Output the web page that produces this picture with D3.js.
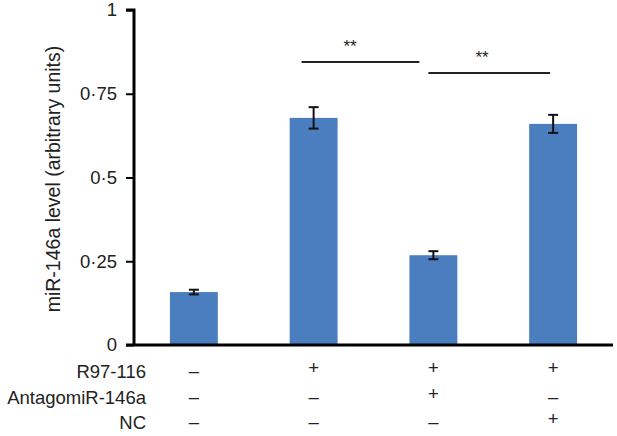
<!DOCTYPE html>
<html>
<head>
<meta charset="utf-8">
<script src="https://cdn.jsdelivr.net/npm/d3@7"></script>
<style>
  body { margin: 0; background: #fff; }
  text { font-family: "Liberation Sans", Arial, sans-serif; fill: #222; }
</style>
</head>
<body>
<div id="chart"></div>
<script>
// data
const groups = ["g1", "g2", "g3", "g4"];
const values = [0.158, 0.678, 0.268, 0.66];
const errors = [0.007, 0.032, 0.012, 0.027];
const yTicks = [0, 0.25, 0.5, 0.75, 1];
const rowNames = ["R97-116", "AntagomiR-146a", "NC"];
const rowR97 = ["–", "+", "+", "+"];
const rowAntago = ["–", "–", "+", "–"];
const rowNC = ["–", "–", "–", "+"];
// significance brackets: [from group, to group, level]
const sigPairs = [["g2", "g3", 0.845], ["g3", "g4", 0.812]];

const W = 617, H = 436;
const margin = {top: 10, left: 134, right: 4, bottom: 91};
const fs = 18.5;

const svg = d3.select("#chart").append("svg")
    .attr("width", W).attr("height", H);

const x = d3.scaleBand()
    .domain(groups)
    .range([margin.left, W - margin.right])
    .paddingInner(0.6)
    .paddingOuter(0.3);

const y = d3.scaleLinear()
    .domain([0, 1])
    .range([H - margin.bottom, margin.top]);

// bars
svg.selectAll("rect.bar").data(groups).enter().append("rect")
    .attr("class", "bar")
    .attr("x", d => x(d))
    .attr("width", x.bandwidth())
    .attr("y", (d, i) => y(values[i]))
    .attr("height", (d, i) => y(0) - y(values[i]))
    .attr("fill", "#4a7ebf");

// error bars
const eb = svg.selectAll("g.err").data(groups).enter().append("g")
    .attr("class", "err")
    .attr("stroke", "#111")
    .attr("stroke-width", 2);
eb.append("line")
    .attr("x1", d => x(d) + x.bandwidth() / 2)
    .attr("x2", d => x(d) + x.bandwidth() / 2)
    .attr("y1", (d, i) => y(values[i] - errors[i]))
    .attr("y2", (d, i) => y(values[i] + errors[i]));
eb.append("line")
    .attr("x1", d => x(d) + x.bandwidth() / 2 - 5)
    .attr("x2", d => x(d) + x.bandwidth() / 2 + 5)
    .attr("y1", (d, i) => y(values[i] - errors[i]))
    .attr("y2", (d, i) => y(values[i] - errors[i]));
eb.append("line")
    .attr("x1", d => x(d) + x.bandwidth() / 2 - 5)
    .attr("x2", d => x(d) + x.bandwidth() / 2 + 5)
    .attr("y1", (d, i) => y(values[i] + errors[i]))
    .attr("y2", (d, i) => y(values[i] + errors[i]));

// y axis
const yAxis = svg.append("g")
    .attr("transform", `translate(${margin.left},0)`)
    .call(d3.axisLeft(y).tickValues(yTicks).tickSize(8)
        .tickFormat(d => d === 0 ? "0" : d === 1 ? "1" : String(d).replace("0.", "0·")));
yAxis.select(".domain").attr("stroke", "#000").attr("stroke-width", 3)
    .attr("d", `M-8,${y(1)}H0V${y(0)}`);
yAxis.selectAll(".tick line").attr("stroke", "#000").attr("stroke-width", 2);
yAxis.selectAll(".tick text").attr("font-size", fs).attr("x", -17).attr("fill", "#222")
    .style("font-family", "Liberation Sans, Arial, sans-serif");

// x axis line
svg.append("line")
    .attr("x1", margin.left - 8).attr("x2", W - margin.right)
    .attr("y1", y(0)).attr("y2", y(0))
    .attr("stroke", "#000").attr("stroke-width", 3);

// y label
svg.append("text")
    .attr("transform", `translate(53,${179}) rotate(-90)`)
    .attr("text-anchor", "middle")
    .attr("dy", "0.35em")
    .attr("font-size", 19.5)
    .text("miR-146a level (arbitrary units)");

// significance lines
sigPairs.forEach(([a, b, lvl], k) => {
    const x1 = x(a) + x.bandwidth() / 2 - 12;
    const x2 = x(b) + x.bandwidth() / 2 - (k === 0 ? 14 : 3);
    svg.append("line")
        .attr("x1", k === 0 ? x1 : x(a) + x.bandwidth() / 2 - 5)
        .attr("x2", x2)
        .attr("y1", y(lvl)).attr("y2", y(lvl))
        .attr("stroke", "#222").attr("stroke-width", 2);
    svg.append("text")
        .attr("x", k === 0 ? 350 : 482)
        .attr("y", y(lvl) - 10)
        .attr("text-anchor", "middle")
        .attr("font-size", 17)
        .text("**");
});

// treatment table
const rows = [rowR97, rowAntago, rowNC];
rows.forEach((row, r) => {
    const yy = 372 + r * 25.5;
    svg.append("text")
        .attr("x", 146).attr("y", yy)
        .attr("dy", "0.35em")
        .attr("text-anchor", "end")
        .attr("font-size", fs)
        .text(rowNames[r]);
    svg.selectAll(null).data(groups).enter().append("text")
        .attr("x", d => x(d) + x.bandwidth() / 2)
        .attr("y", (d, i) => yy - (row[i] === "+" ? 4 : 1))
        .attr("dy", "0.35em")
        .attr("text-anchor", "middle")
        .attr("font-size", fs)
        .text((d, i) => row[i]);
});
</script>
</body>
</html>
